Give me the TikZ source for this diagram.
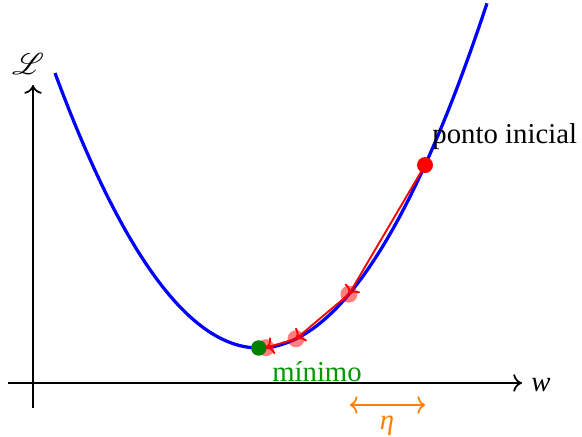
\documentclass[tikz,border=0pt]{standalone}
\usepackage{fontspec}
\setmainfont{Liberation Serif}
\usepackage{mathrsfs}
\usetikzlibrary{arrows.meta}
\begin{document}
\begin{tikzpicture}[x=0.4pt,y=-0.4pt,
  axis/.style={line width=0.7pt,-{To[length=3.5pt,width=7pt]}},
  curve/.style={blue,line width=1.3pt},
  stepline/.style={red,line width=0.75pt,-{To[length=3pt,width=7pt]}},
  dot/.style={circle,inner sep=0pt,minimum size=6.4pt,fill=red},
  lightdot/.style={circle,inner sep=0pt,minimum size=6.8pt,fill=red,fill opacity=0.5},
  mindot/.style={circle,inner sep=0pt,minimum size=6.2pt,fill=green!50!black},
  lbl/.style={inner sep=0pt,font=\fontsize{11.5pt}{13.5pt}\selectfont}]
\useasboundingbox (0,0) rectangle (582,437);
% axes
\coordinate (xs) at (8,383);
\coordinate (xe) at (522,383);
\coordinate (ys) at (33,408);
\coordinate (ye) at (33,85);
\draw[axis] (xs) -- (xe);
\draw[axis] (ys) -- (ye);
\node[lbl,anchor=west] (wl) at (531,385) {\textit{w}};
\node[lbl] (Ll) at (28,64) {$\mathscr{L}$};
% curve
\draw[curve] plot[domain=55:487,samples=120,smooth] (\x,{348-66.2*((\x-258.8)/100)^2});
% points
\node[lightdot] (p3) at (266,347.7) {};
\node[mindot] (pm) at (258.8,348) {};
\node[lightdot] (p2) at (296,338.8) {};
\node[lightdot] (p1) at (349,294.1) {};
\node[dot] (p0) at (425,165.1) {};
\draw[stepline] (p0.center) -- (p1.center);
\draw[stepline] (p1.center) -- (p2.center);
\draw[stepline] (p2.center) -- (p3.center);
% labels
\node[lbl,anchor=south west] (ini) at (432,150) {ponto inicial};
\node[lbl,text=green!60!black] (mn) at (317,372) {mínimo};
% eta
\coordinate (ea) at (350,405);
\coordinate (eb) at (425,405);
\draw[orange,line width=0.7pt,{To[length=3pt,width=7pt]}-{To[length=3pt,width=7pt]}] (ea) -- (eb);
\node[lbl,text=orange] (eta) at (387,426) {\textit{η}};
\end{tikzpicture}
\end{document}
